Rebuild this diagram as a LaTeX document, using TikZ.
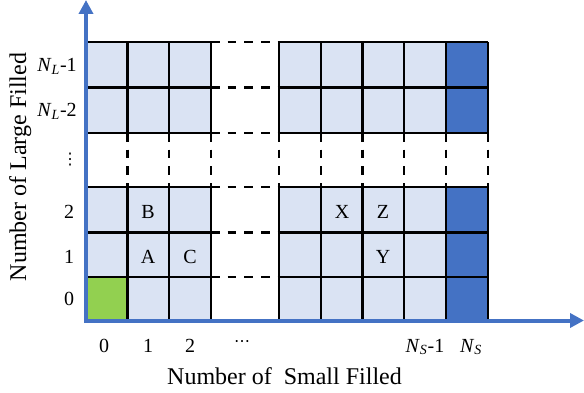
\documentclass[tikz,border=0pt]{standalone}
\usepackage{fontspec}
\setmainfont{Liberation Serif}
\newfontfamily\dotsfont{DejaVu Sans}
\usetikzlibrary{arrows.meta}
\definecolor{cellblue}{HTML}{DAE3F3}
\definecolor{darkcell}{HTML}{4472C4}
\definecolor{greencell}{HTML}{92D050}
\definecolor{axisblue}{HTML}{4472C4}
\begin{document}
\begin{tikzpicture}[x=0.75pt,y=-0.75pt,
 gridline/.style={black,line width=1.6pt},
 dashline/.style={black,line width=1.6pt,dash pattern=on 6.5pt off 6pt},
 axisline/.style={axisblue,line width=3pt,-{Triangle[length=10.5pt,width=10.5pt]}},
 ticklabel/.style={font=\fontsize{15}{18}\selectfont,inner sep=0pt},
 celllabel/.style={font=\fontsize{15}{18}\selectfont,inner sep=0pt},
 axistitle/.style={font=\fontsize{18}{21}\selectfont,inner sep=0pt}]
\useasboundingbox (0,0) rectangle (584,392);

% cell fills
\fill[cellblue] (86,42) rectangle (211,133);
\fill[cellblue] (86,187) rectangle (211,320);
\fill[cellblue] (279,42) rectangle (446,133);
\fill[cellblue] (279,187) rectangle (446,320);
\fill[darkcell] (446,42) rectangle (488,133);
\fill[darkcell] (446,187) rectangle (488,320);
\fill[greencell] (86,277) rectangle (127.5,320);

% solid grid lines
\foreach \yy in {42,87.5,133,187,232.5,277}{
  \draw[gridline] (86,\yy) -- (211,\yy);
  \draw[gridline] (279,\yy) -- (488,\yy);
}
\foreach \xx in {127.5,169,211,279,321,362.5,404,446,488}{
  \draw[gridline] (\xx,42) -- (\xx,133);
  \draw[gridline] (\xx,187) -- (\xx,320);
}
% dashed continuation lines
\foreach \yy in {42,87.5,133,187,232.5,277}{
  \draw[dashline] (211,\yy) -- (279,\yy);
}
\foreach \xx in {127.5,169,211,279,321,362.5,404,446,488}{
  \draw[dashline] (\xx,133) -- (\xx,187);
}

% axes
\coordinate (origin) at (86,320.5);
\coordinate (ytip) at (86,0);
\coordinate (xtip) at (584,320.5);
\draw[axisline] ([yshift=-1.5pt]origin) -- (ytip);
\draw[axisline] ([xshift=-1.5pt]origin) -- (xtip);

% y tick labels
\node[ticklabel,anchor=base east] (ynl1) at (77,72) {\textit{N}\textsubscript{\textit{L}}-1};
\node[ticklabel,anchor=base east] (ynl2) at (77,117) {\textit{N}\textsubscript{\textit{L}}-2};
\node[ticklabel,font=\fontsize{12}{14}\selectfont] (ydots) at (70,160) {\dotsfont ⋮};
\node[ticklabel,anchor=base] (y2) at (69,218.5) {2};
\node[ticklabel,anchor=base] (y1) at (69,263.5) {1};
\node[ticklabel,anchor=base] (y0) at (69,305) {0};

% x tick labels
\node[ticklabel,anchor=base] (x0) at (104,352) {0};
\node[ticklabel,anchor=base] (x1) at (148,352) {1};
\node[ticklabel,anchor=base] (x2) at (190,352) {2};
\node[ticklabel,font=\fontsize{12}{14}\selectfont] (xdots) at (242,344) {\dotsfont ⋯};
\node[ticklabel,anchor=base] (xns1) at (425,352) {\textit{N}\textsubscript{\textit{S}}-1};
\node[ticklabel,anchor=base] (xns) at (471,352) {\textit{N}\textsubscript{\textit{S}}};

% cell letters
\node[celllabel] (cB) at (148,212) {B};
\node[celllabel] (cA) at (148,257) {A};
\node[celllabel] (cC) at (190,257) {C};
\node[celllabel] (cX) at (342,212) {X};
\node[celllabel] (cZ) at (383,212) {Z};
\node[celllabel] (cY) at (383,257) {Y};

% axis titles
\node[axistitle,anchor=base] (xtitle) at (284.5,384) {Number of\ \ Small Filled};
\node[axistitle,anchor=base,rotate=90] (ytitle) at (26,167) {Number of Large Filled};
\end{tikzpicture}
\end{document}
